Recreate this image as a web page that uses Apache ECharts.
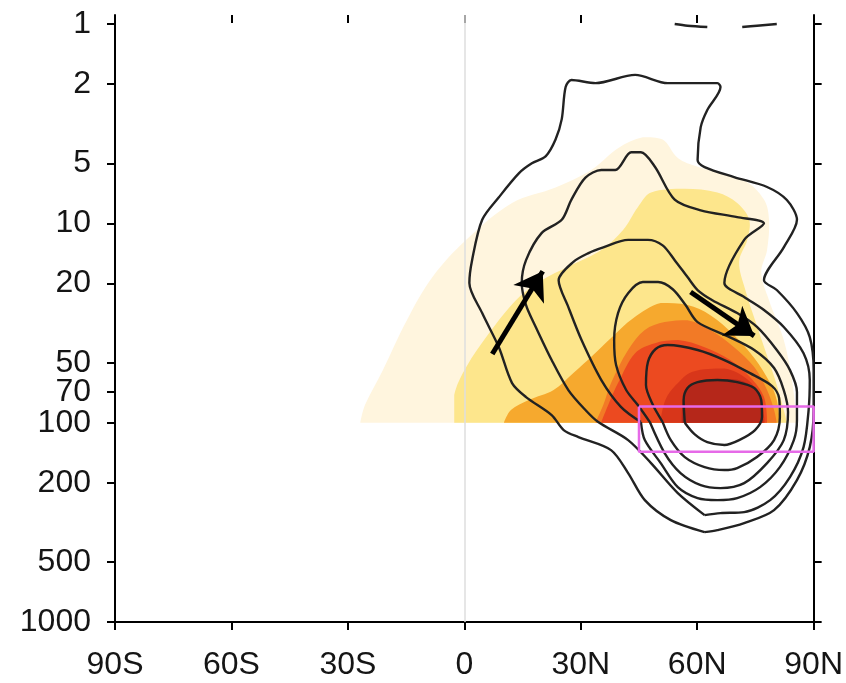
<!DOCTYPE html>
<html>
<head>
<meta charset="utf-8">
<script src="https://cdn.jsdelivr.net/npm/echarts@6/dist/echarts.min.js"></script>
<style>
  html, body { margin: 0; padding: 0; background: #fff; }
  #chart { width: 846px; height: 683px; }
</style>
</head>
<body>
<div id="chart"></div>
<script>
// Axes: latitude in degrees (negative = south), pressure in hPa (log scale)
const latTicks = [-90, -60, -30, 0, 30, 60, 90];
const latLabels = ['90S', '60S', '30S', '0', '30N', '60N', '90N'];
const pressureTicks = [1, 2, 5, 10, 20, 50, 70, 100, 200, 500, 1000];

// Shaded field, lightest level first; each level is a [lat, hPa] outline
const shadeColors = ['#fff5de', '#fde68c', '#f6a92e', '#f27a26', '#ec4a20', '#d8361a', '#b5271a'];
const shade1 = [[-26.8,100],[-25.6,81.6],[-21,54.5],[-14.8,30.6],[-8.2,18.6],[0.5,12.1],[12.3,7.9],[23.5,6.6],[32.7,5.4],[39.6,4.2],[46,3.7],[51.1,3.8],[55,4.7],[60.1,5.2],[72.1,6.1],[77.2,7.6],[78.5,9.6],[78,13.6],[76.5,17.6],[78.5,24.3],[82.3,38.5],[84.4,61],[85.7,100]];
const shade2 = [[-2.6,100],[-2.6,72.7],[0.5,52.6],[6.4,35.5],[13.3,24.3],[19.2,19.7],[27.6,16.2],[35.3,13.6],[40.9,10.8],[44.7,8.3],[48.1,7.0],[56.8,6.7],[65.2,7.0],[70.3,7.9],[73.4,9.6],[72.9,12.1],[70.8,15.6],[72.4,21.6],[74.9,30.6],[77.5,43.2],[80.5,64.8],[83.1,100]];
const shade3 = [[10.2,100],[12,86.4],[16.6,77],[23,68.6],[28.1,56.4],[33.2,45.8],[37.8,37.6],[43.5,29.9],[50.6,25.1],[57.5,25.7],[63.4,28.9],[69.5,36.4],[74.7,47.4],[78.8,63.3],[80.5,77],[81.3,100]];
const shade4 = [[33.8,100],[35.8,81.6],[37.8,63.3],[42.2,43.2],[46.5,34.3],[51.6,31.3],[57.5,30.6],[63.4,34.3],[69.5,41.8],[74.7,52.6],[78,68.6],[79.8,86.4],[80.5,100]];
const shade5 = [[35.3,100],[37.6,77],[39.6,63.3],[44,44.8],[49.1,39.9],[55,38.5],[61.9,41.8],[68.5,48.5],[73.6,59],[77.2,74.4],[78,100]];
const shade6 = [[50.5,100],[51.8,77],[54.5,64.8],[58.8,55.5],[67,53.5],[72.9,60.5],[76.2,74.4],[77.4,100]];
const shade7 = [[56,100],[56.3,77],[58,65.5],[61.4,61.1],[69,60.4],[74.1,65.5],[76.5,78.8],[77,100]];
const shadeLevels = [shade1, shade2, shade3, shade4, shade5, shade6, shade7];

// Contour lines, innermost first
const contour1 = [[56.8,100],[56.5,77],[57.5,67],[60.1,62.6],[65.2,61.1],[70.3,62.6],[74.7,67],[76.5,77],[76.7,93.7],[74.9,108.9],[70.8,122.3],[67,129.5],[62.6,125.2],[59.3,114.1],[56.8,100]];
const contour2 = [[51.1,99.3],[48.6,81.6],[46.8,64.8],[47.3,49.7],[49.3,42.7],[52.4,40.8],[60.1,43.2],[67,48.5],[73.6,56.4],[79.3,65.5],[81.1,75.2],[81.3,93.7],[79.8,122.3],[75.4,148.8],[70.3,169],[67,172.9],[61.9,167.1],[56.8,148.8],[53.2,122.3],[51.1,99.3]];
const contour3 = [[47.8,99.3],[44.7,81.6],[41.7,68.6],[39.1,51.4],[38.6,38.5],[39.6,28.2],[42.2,22.4],[46,19.7],[49.9,19.7],[53.7,21.4],[57,25.7],[60.1,31.3],[67.8,36.8],[74.7,43.2],[79.8,53.2],[82.3,68.6],[83.4,88.5],[82.3,122.3],[78,159.5],[72.1,201],[66,212.9],[60.9,205.7],[55.7,179],[51.6,142.1],[47.8,99.3]];
const contour4 = [[45.5,99.3],[40.4,83.5],[35.3,61.1],[30.2,38.5],[26.8,26.3],[24.3,19.3],[28.1,15.6],[32,14.1],[35.8,13.2],[42.2,12.1],[47.3,12.1],[51.1,12.9],[54.2,15.3],[57.5,18.6],[60.1,21.6],[63.9,24.3],[70.3,28.2],[75.4,33.1],[80.5,43.2],[83.9,54.5],[85.7,70.2],[85.7,97],[84.9,122.3],[81.3,167.1],[76.2,210.5],[70.3,239],[65.2,244.6],[60.1,239],[55,210.5],[50.6,159.5],[46.5,122.3],[45.5,99.3]];
const contour5 = [[61.9,290.8],[55,225.5],[48.1,159.5],[42.2,122.3],[34.5,99.3],[31.2,86.4],[26.8,68.6],[22.5,48.5],[18.4,33.1],[15.9,25.7],[14.8,19.9],[15.9,15.3],[19.9,11.2],[25.1,9.6],[27.6,7.6],[31.2,5.9],[35.3,5.4],[38.9,5.4],[43,4.4],[45.5,4.4],[49.1,5.2],[54.2,7.6],[60.9,8.6],[70.3,9.3],[77.2,10],[72.1,12.1],[67,19.9],[72.1,23.4],[77.2,27.2],[82.3,33.1],[87.4,44.8],[89,61.1],[88.7,86.4],[87.4,132.6],[83.9,187.5],[78.8,244.6],[72.1,280.9],[66,284.2],[61.9,290.8]];
const contour6 = [[61.9,353.9],[53.2,308.1],[46.5,244.6],[42.2,179],[37.8,137.3],[29.4,118.1],[25.6,108.9],[22.5,91.6],[15.9,74.4],[12.3,63.3],[8.9,41.8],[4.6,28.2],[1.3,19.9],[2,15.3],[4.6,9.6],[8.9,7.4],[14.1,5.6],[17.4,5.0],[21,4.6],[23.5,3.8],[25.1,3.0],[26.1,2.07],[27.6,1.91],[33.8,1.98],[44,1.80],[52.4,1.98],[65.2,1.98],[66,2.07],[62.6,2.7],[60.9,3.29],[60.1,4.81],[61.9,5.22],[69.5,5.86],[78,6.57],[83.1,7.64],[85.7,9.6],[82.3,13.2],[77.2,19.3],[80.5,21.6],[85.7,28.2],[89,37.2],[90,54.5],[90,86.4],[89,132.6],[85.7,194.1],[79.8,274.5],[72.1,319],[65.2,345.9],[61.9,353.9]];
const topFragmentA = [[54.2,1.0],[57.5,1.02],[62.6,1.035]];
const topFragmentB = [[71.6,1.035],[75.4,1.02],[80.5,1.0]];
const contours = [contour1, contour2, contour3, contour4, contour5, contour6, topFragmentA, topFragmentB];

// Arrows [tail, head] and the highlighted box
const arrowUp = [[7.2, 45.2], [20.2, 17.4]];
const arrowDown = [[58.3, 22.1], [74.7, 36.7]];
const boxLat = [45, 90];
const boxPressure = [83, 140];

const labelFont = 'Liberation Sans, Arial, sans-serif';
const chart = echarts.init(document.getElementById('chart'), null, { renderer: 'canvas' });

const series = [];

// bounding box of a pixel outline, keeps spline control points inside it
function outlineBox(pts) {
  const min = [Infinity, Infinity], max = [-Infinity, -Infinity];
  pts.forEach(p => {
    min[0] = Math.min(min[0], p[0]); min[1] = Math.min(min[1], p[1]);
    max[0] = Math.max(max[0], p[0]); max[1] = Math.max(max[1], p[1]);
  });
  return [min, max];
}

// filled levels
series.push({
  type: 'custom',
  coordinateSystem: 'cartesian2d',
  xAxisIndex: 0, yAxisIndex: 0,
  silent: true,
  clip: true,
  z: 1,
  data: shadeLevels.map(s => s[0]),
  renderItem: function (params, api) {
    const outline = shadeLevels[params.dataIndex];
    const pts = outline.map(d => api.coord(d));
    return {
      type: 'polygon',
      shape: { points: pts, smooth: 0.35, smoothConstraint: outlineBox(pts) },
      style: { fill: shadeColors[params.dataIndex], stroke: null }
    };
  },
  markLine: {
    silent: true,
    symbol: ['none', 'none'],
    label: { show: false },
    lineStyle: { color: '#dedede', width: 1.5, type: 'solid' },
    data: [{ xAxis: 0 }]
  }
});

// contour lines
contours.forEach(c => {
  series.push({
    type: 'line',
    xAxisIndex: 0, yAxisIndex: 0,
    data: c,
    smooth: 0.3,
    showSymbol: false,
    silent: true,
    z: 3,
    lineStyle: { color: '#222', width: 2.4 }
  });
});

// highlighted box
series.push({
  type: 'line',
  xAxisIndex: 0, yAxisIndex: 0,
  data: [[boxLat[0], boxPressure[0]], [boxLat[1], boxPressure[0]], [boxLat[1], boxPressure[1]], [boxLat[0], boxPressure[1]], [boxLat[0], boxPressure[0]]],
  showSymbol: false,
  silent: true,
  z: 4,
  lineStyle: { color: '#e66ae8', width: 2.5 }
});

// arrows
series.push({
  type: 'lines',
  coordinateSystem: 'cartesian2d',
  xAxisIndex: 0, yAxisIndex: 0,
  silent: true,
  z: 5,
  symbol: ['none', 'arrow'],
  symbolSize: 27,
  lineStyle: { color: '#000', width: 5, opacity: 1 },
  data: [{ coords: arrowUp }, { coords: arrowDown }]
});

const yAxisBase = {
  type: 'log',
  logBase: 10,
  min: 0.901,
  max: 1000,
  inverse: true,
  splitLine: { show: false },
  axisLine: { show: true, onZero: false, lineStyle: { color: '#000', width: 2 } },
  axisTick: { show: true, inside: false, length: 8, customValues: pressureTicks, lineStyle: { color: '#000', width: 2 } }
};

chart.setOption({
  animation: false,
  backgroundColor: '#fff',
  grid: { left: 115, right: 29, top: 15, bottom: 61, containLabel: false },
  xAxis: [
    {
      type: 'value', position: 'bottom', min: -90, max: 90, interval: 30,
      splitLine: { show: false },
      axisLine: { show: true, onZero: false, lineStyle: { color: '#000', width: 2 } },
      axisTick: { show: true, inside: false, length: 8, lineStyle: { color: '#000', width: 2 } },
      axisLabel: {
        margin: 27, fontSize: 32, fontFamily: labelFont, color: '#151515',
        formatter: v => latLabels[latTicks.indexOf(Math.round(v))]
      }
    },
    {
      type: 'value', position: 'top', min: -90, max: 90, interval: 30,
      splitLine: { show: false },
      axisLine: { show: false, onZero: false },
      axisTick: { show: true, inside: true, length: 8, lineStyle: { color: '#000', width: 2 } },
      axisLabel: { show: false }
    }
  ],
  yAxis: [
    Object.assign({}, yAxisBase, {
      position: 'left',
      axisLabel: {
        show: true, margin: 24, fontSize: 32, fontFamily: labelFont, color: '#151515',
        customValues: pressureTicks,
        formatter: v => String(Math.round(v))
      }
    }),
    Object.assign({}, yAxisBase, {
      position: 'right',
      axisLabel: { show: false }
    })
  ],
  series: series
});
</script>
</body>
</html>
